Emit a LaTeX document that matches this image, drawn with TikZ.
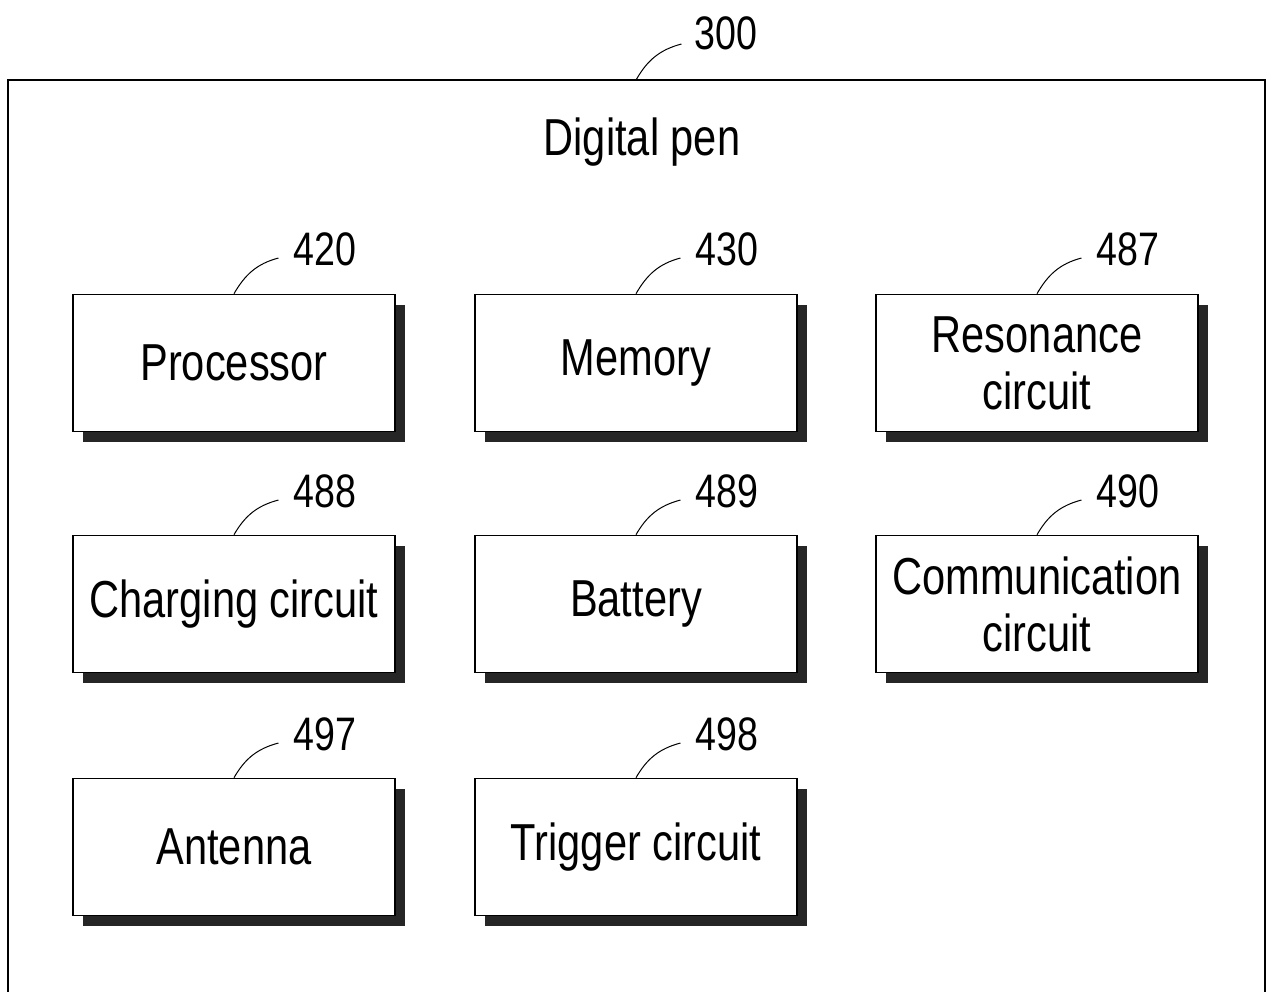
\documentclass[tikz,border=0pt]{standalone}
\usepackage{fontspec}
\setmainfont{Liberation Sans}[FakeStretch=0.8]
\usetikzlibrary{shadows}
\begin{document}
\begin{tikzpicture}[x=1pt,y=-1pt]
  \tikzstyle{block}=[draw, line width=1.6pt, fill=white, minimum width=322pt, minimum height=137pt,
    inner sep=0pt, align=center, font=\fontsize{52}{57}\selectfont,
    general shadow={fill=black!85, shadow xshift=10pt, shadow yshift=-10pt}]
  \tikzstyle{num}=[inner sep=0pt, font=\fontsize{47}{50}\selectfont]
  \tikzstyle{lead}=[line width=1pt]

  \useasboundingbox (0,0) rectangle (1268,992);

  \node[draw, line width=1.6pt, minimum width=1257pt, minimum height=1000pt] (pen) at (636.5,580) {};
  \node[font=\fontsize{52}{57}\selectfont] (title) at (642,142) {Digital pen};
  \node[num] (n300) at (726,33) {300};

  \node[block] (proc) at (234,363)  {Processor};
  \node[block] (mem)  at (636,363)  {Memory};
  \node[block] (reso) at (1037,363) {Resonance\\circuit};
  \node[block] (chg)  at (234,604)  {Charging circuit};
  \node[block] (batt) at (636,604)  {Battery};
  \node[block] (comm) at (1037,604) {Communication\\circuit};
  \node[block] (ant)  at (234,847)  {Antenna};
  \node[block] (trig) at (636,847)  {Trigger circuit};

  \node[num] (n420) at (325,249)  {420};
  \node[num] (n430) at (727,249)  {430};
  \node[num] (n487) at (1128,249) {487};
  \node[num] (n488) at (325,491)  {488};
  \node[num] (n489) at (727,491)  {489};
  \node[num] (n490) at (1128,491) {490};
  \node[num] (n497) at (325,734)  {497};
  \node[num] (n498) at (727,734)  {498};

  \draw[lead] (pen.north)  to[out=60,in=195] ([xshift=-13pt,yshift=-11pt]n300.west);
  \draw[lead] (proc.north) to[out=60,in=195] ([xshift=-15pt,yshift=-9pt]n420.west);
  \draw[lead] (mem.north)  to[out=60,in=195] ([xshift=-15pt,yshift=-9pt]n430.west);
  \draw[lead] (reso.north) to[out=60,in=195] ([xshift=-15pt,yshift=-9pt]n487.west);
  \draw[lead] (chg.north)  to[out=60,in=195] ([xshift=-15pt,yshift=-9pt]n488.west);
  \draw[lead] (batt.north) to[out=60,in=195] ([xshift=-15pt,yshift=-9pt]n489.west);
  \draw[lead] (comm.north) to[out=60,in=195] ([xshift=-15pt,yshift=-9pt]n490.west);
  \draw[lead] (ant.north)  to[out=60,in=195] ([xshift=-15pt,yshift=-9pt]n497.west);
  \draw[lead] (trig.north) to[out=60,in=195] ([xshift=-15pt,yshift=-9pt]n498.west);
\end{tikzpicture}
\end{document}
